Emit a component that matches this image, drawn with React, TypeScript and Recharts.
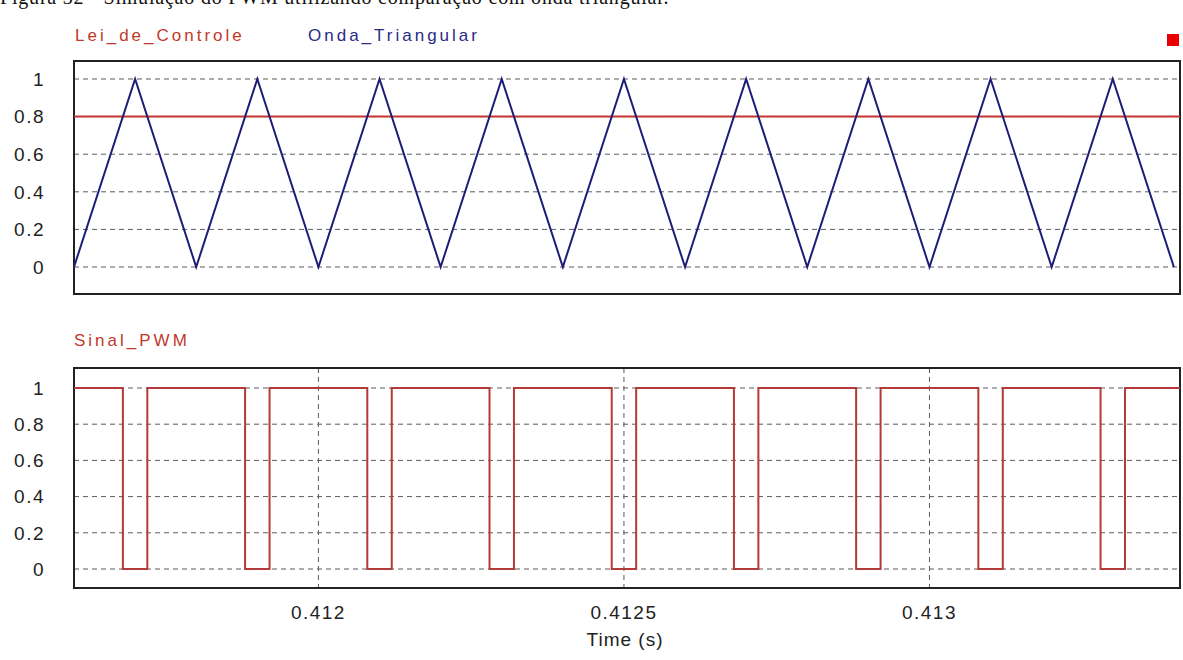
import React from 'react';
import { LineChart, Line, XAxis, YAxis, CartesianGrid, ReferenceArea } from 'recharts';

// ---- data ----
const xDomain: [number, number] = [0.4116, 0.41341];
const xTicks = [0.412, 0.4125, 0.413];
const xTickLabels = ['0.412', '0.4125', '0.413'];
const yTicks = [0, 0.2, 0.4, 0.6, 0.8, 1];
const yTickLabels = ['0', '0.2', '0.4', '0.6', '0.8', '1'];

// Onda_Triangular vertices
const triTimes = [0.4116, 0.4117, 0.4118, 0.4119, 0.412, 0.4121, 0.4122, 0.4123, 0.4124, 0.4125,
  0.4126, 0.4127, 0.4128, 0.4129, 0.413, 0.4131, 0.4132, 0.4133, 0.4134];
const triValues = [0, 1, 0, 1, 0, 1, 0, 1, 0, 1, 0, 1, 0, 1, 0, 1, 0, 1, 0];

// Lei_de_Controle
const ctrlTimes = [0.4116, 0.41341];
const ctrlValues = [0.8, 0.8];

// Sinal_PWM switching instants (step after)
const pwmTimes = [0.4116,
  0.41168, 0.41172, 0.41188, 0.41192, 0.41208, 0.41212, 0.41228, 0.41232,
  0.41248, 0.41252, 0.41268, 0.41272, 0.41288, 0.41292, 0.41308, 0.41312,
  0.41328, 0.41332, 0.41341];
const pwmValues = [1,
  0, 1, 0, 1, 0, 1, 0, 1,
  0, 1, 0, 1, 0, 1, 0, 1,
  0, 1, 1];

const topYDomain: [number, number] = [-0.1436, 1.0957];
const botYDomain: [number, number] = [-0.105, 1.1105];

const triData = triTimes.map((t, i) => ({ t, v: triValues[i] }));
const ctrlData = ctrlTimes.map((t, i) => ({ t, v: ctrlValues[i] }));
const pwmData = pwmTimes.map((t, i) => ({ t, v: pwmValues[i] }));

const FONT = '"Liberation Sans", Arial, sans-serif';
const TICK_COLOR = '#222';
const GRID_COLOR = '#5c5c5c';

const YTick = (props: any) => {
  const { x, y, payload } = props;
  const idx = yTicks.findIndex((v) => Math.abs(v - payload.value) < 1e-9);
  return (
    <text x={x} y={y} dy="0.36em" textAnchor="end" fill={TICK_COLOR}
      fontFamily={FONT} fontSize={19} letterSpacing={1.5}>
      {idx >= 0 ? yTickLabels[idx] : ''}
    </text>
  );
};

const XTick = (props: any) => {
  const { x, y, payload } = props;
  const idx = xTicks.findIndex((v) => Math.abs(v - payload.value) < 1e-9);
  return (
    <text x={x} y={y} dy="0.71em" textAnchor="middle" fill={TICK_COLOR}
      fontFamily={FONT} fontSize={19} letterSpacing={1.5}>
      {idx >= 0 ? xTickLabels[idx] : ''}
    </text>
  );
};

export default function App() {
  return (
    <div style={{ position: 'absolute', left: 0, top: 0, width: 1183, height: 660, background: '#fff', overflow: 'hidden' }}>
      {/* top panel */}
      <div style={{ position: 'absolute', left: 0, top: 0 }}>
        <LineChart width={1183} height={300} margin={{ top: 61, right: 3, bottom: 6, left: 0 }}>
          <CartesianGrid stroke={GRID_COLOR} strokeDasharray="5 4" strokeWidth={1} />
          <XAxis type="number" dataKey="t" domain={xDomain} ticks={xTicks} allowDataOverflow
            tick={false} axisLine={false} tickLine={false} height={0} />
          <YAxis type="number" domain={topYDomain} ticks={yTicks} allowDataOverflow width={74}
            axisLine={false} tickLine={false} tickSize={0} tickMargin={29} tick={<YTick />} />
          <Line data={ctrlData} dataKey="v" type="linear" stroke="#c63434" strokeWidth={2}
            dot={false} isAnimationActive={false} />
          <Line data={triData} dataKey="v" type="linear" stroke="#1d1d78" strokeWidth={2}
            dot={false} isAnimationActive={false} />
          <ReferenceArea x1={xDomain[0]} x2={xDomain[1]} y1={topYDomain[0]} y2={topYDomain[1]}
            fill="none" fillOpacity={0} stroke="#222" strokeWidth={2} ifOverflow="visible" />
        </LineChart>
      </div>
      {/* bottom panel */}
      <div style={{ position: 'absolute', left: 0, top: 0 }}>
        <LineChart width={1183} height={660} margin={{ top: 368, right: 3, bottom: 0, left: 0 }}>
          <CartesianGrid stroke={GRID_COLOR} strokeDasharray="5 4" strokeWidth={1} />
          <XAxis type="number" dataKey="t" domain={xDomain} ticks={xTicks} allowDataOverflow
            height={72} axisLine={false} tickLine={false} tickSize={0} tickMargin={18} tick={<XTick />} />
          <YAxis type="number" domain={botYDomain} ticks={yTicks} allowDataOverflow width={74}
            axisLine={false} tickLine={false} tickSize={0} tickMargin={29} tick={<YTick />} />
          <Line data={pwmData} dataKey="v" type="stepAfter" stroke="#b43a3a" strokeWidth={2}
            dot={false} isAnimationActive={false} />
          <ReferenceArea x1={xDomain[0]} x2={xDomain[1]} y1={botYDomain[0]} y2={botYDomain[1]}
            fill="none" fillOpacity={0} stroke="#222" strokeWidth={2} ifOverflow="visible" />
        </LineChart>
      </div>
      {/* texts */}
      <svg width={1183} height={660} style={{ position: 'absolute', left: 0, top: 0, pointerEvents: 'none' }}>
        <text x={0} y={4} fontFamily='"Liberation Serif", "Times New Roman", serif' fontSize={20}
          letterSpacing={0.8} fill="#111">
          Figura 32 - Simulação do PWM utilizando comparação com onda triangular.
        </text>
        <text x={75} y={41} fontFamily={FONT} fontSize={17} letterSpacing={3} fill="#c0392b">Lei_de_Controle</text>
        <text x={308} y={41} fontFamily={FONT} fontSize={17} letterSpacing={3} fill="#2a2a88">Onda_Triangular</text>
        <text x={74} y={346} fontFamily={FONT} fontSize={17} letterSpacing={3} fill="#c0392b">Sinal_PWM</text>
        <rect x={1167} y={34} width={12} height={12} fill="#e60000" />
        <text x={625} y={646} textAnchor="middle" fontFamily={FONT} fontSize={19} letterSpacing={1}
          fill={TICK_COLOR}>Time (s)</text>
      </svg>
    </div>
  );
}
